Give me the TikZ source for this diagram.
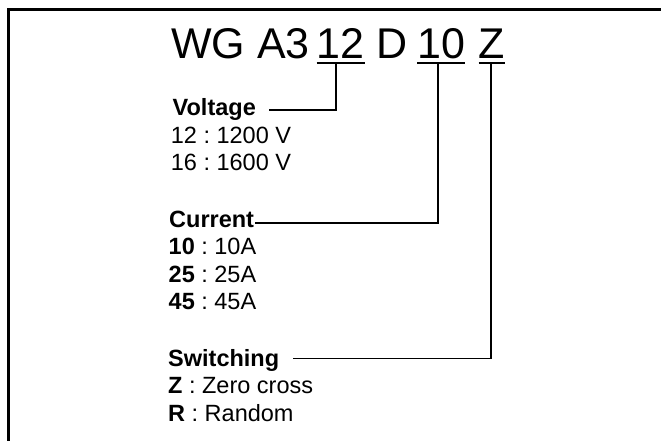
\documentclass[tikz,border=0pt]{standalone}
\usepackage{fontspec}
\setmainfont{Liberation Sans}
\usetikzlibrary{calc}
\frenchspacing
\begin{document}
\frenchspacing
\begin{tikzpicture}[x=1pt,y=-1pt,
  title/.style={inner sep=0pt, anchor=base west, font=\fontsize{43}{50}\selectfont},
  lbl/.style={inner sep=0pt, anchor=base west, font=\fontsize{23.5}{27}\selectfont\frenchspacing},
  head/.style={inner sep=0pt, anchor=base west, font=\fontsize{23.5}{27}\selectfont\bfseries},
  uline/.style={line width=2pt},
  conn/.style={line width=1.6pt},
  frame/.style={line width=3pt}]
\useasboundingbox (0,0) rectangle (661,441);
\clip (0,0) rectangle (661,441);
\draw[frame] (8.5,460) -- (8.5,10) -- (680,10);

% title
\node[title] (tA)  at (171,58.3)   {WG A3};
\node[title] (t12) at (316.7,58.3) {12};
\node[title] (tD)  at (376.5,58.3) {D};
\node[title] (t10) at (417,58.3)   {10};
\node[title] (tZ)  at (478.5,58.3) {Z};

\foreach \n in {t12,t10,tZ}
  \draw[uline] ([shift={(0,5)}]\n.base west) -- ([shift={(0,5)}]\n.base east);

% voltage
\node[head] (volt) at (172.5,116) {Voltage};
\node[lbl]  (v1)   at (170.7,143.5) {12 : 1200 V};
\node[lbl]  (v2)   at (170.7,171) {16 : 1600 V};

% current
\node[head] (curr) at (169,227) {Current};
\node[lbl]  (c1)   at (168.5,254.5) {\textbf{10} : 10A};
\node[lbl]  (c2)   at (168.5,282) {\textbf{25} : 25A};
\node[lbl]  (c3)   at (168.5,309.5) {\textbf{45} : 45A};

% switching
\node[head] (sw) at (168,366) {Switching};
\node[lbl]  (s1) at (168,393.5) {\textbf{Z} : Zero cross};
\node[lbl]  (s2) at (168,421) {\textbf{R} : Random};

% connectors
\draw[conn] ([shift={(19.3,5)}]t12.base west) |- ([shift={(12.6,-6)}]volt.base east);
\draw[conn] ([shift={(21,5)}]t10.base west) |- ([shift={(0.5,-4.3)}]curr.base east);
\draw[conn] ([shift={(12.2,5)}]tZ.base west) |- ([shift={(14,-7.7)}]sw.base east);
\end{tikzpicture}
\end{document}
